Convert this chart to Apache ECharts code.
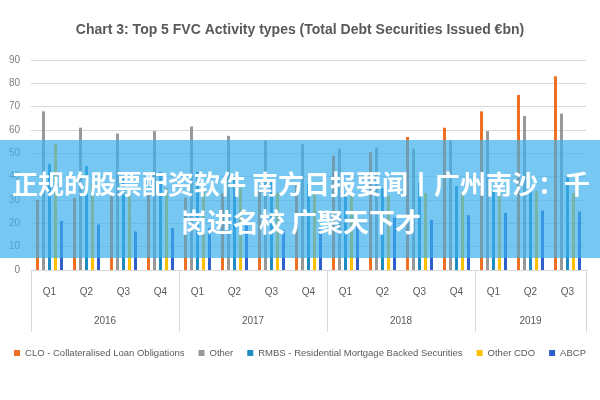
<!DOCTYPE html>
<html>
<head>
<meta charset="utf-8">
<script src="https://cdn.jsdelivr.net/npm/echarts@6/dist/echarts.min.js"></script>
<style>
    html, body {margin: 0; padding: 0; background: #fff;}
    #chart {width: 600px; height: 400px;}
</style>
</head>
<body>
<div id="chart"></div>
<script>
// quarter and year labels along the x axis
const quarters = ['Q1', 'Q2', 'Q3', 'Q4', 'Q1', 'Q2', 'Q3', 'Q4', 'Q1', 'Q2', 'Q3', 'Q4', 'Q1', 'Q2', 'Q3'];
const years = ['2016', '2017', '2018', '2019'];
// half-quarter slot where each year label sits, and where year separators go
const yearLabelSlots = [4, 12, 20, 27];
const yearTickSlots = [0, 8, 16, 24, 30];

const seriesNames = ['CLO - Collateralised Loan Obligations', 'Other', 'RMBS - Residential Mortgage Backed Securities', 'Other CDO', 'ABCP'];
const seriesColors = ['#F07023', '#999999', '#1E8BC3', '#FFC000', '#2F5FCB'];

// values (€bn)
const clo = [30, 31, 32, 32, 31, 33, 34, 37, 49, 50.5, 57, 61, 68, 75, 83];
const other = [68, 61, 58.5, 59.5, 61.5, 57.5, 55.5, 54, 52, 52.5, 52, 55.5, 59.5, 66, 67];
const rmbs = [45.5, 44.5, 40, 42, 42, 40, 38, 37, 33, 35, 37.5, 36, 34.5, 35.5, 40];
const otherCdo = [54, 37, 34, 35, 34, 35, 33, 33, 32, 32, 33, 33, 33.5, 34, 33];
const abcp = [21, 19.5, 16.5, 18, 18, 19, 17, 18, 21, 22.5, 21.5, 23.5, 24.5, 25.5, 25];

const yAxisTicks = {min: 0, max: 90, interval: 10};

const bannerLines = ['正规的股票配资软件 南方日报要闻丨广州南沙：千', '岗进名校 广聚天下才'];

const labelFont = '"Liberation Sans", Arial, sans-serif';
const gridColor = '#d9d9d9';
const textColor = '#595959';

// year axis: 31 points on half-quarter steps, labels only where a year is centred
const yearSlots = [];
for (let k = 0; k <= 30; k++) {
    const i = yearLabelSlots.indexOf(k);
    yearSlots.push(i >= 0 ? years[i] : '');
}

const allValues = [clo, other, rmbs, otherCdo, abcp];

const chart = echarts.init(document.getElementById('chart'), null, {renderer: 'canvas'});

chart.setOption({
    animation: false,
    title: {
        text: 'Chart 3: Top 5 FVC Activity types (Total Debt Securities Issued €bn)',
        left: 'center',
        top: 18,
        textStyle: {fontFamily: labelFont, fontSize: 14, fontWeight: 'bold', color: textColor}
    },
    grid: {left: 31, right: 14, top: 60, bottom: 130},
    legend: {
        data: seriesNames,
        bottom: 37,
        left: 'center',
        icon: 'rect',
        itemWidth: 6,
        itemHeight: 6,
        itemGap: 14,
        textStyle: {fontFamily: labelFont, fontSize: 9.5, color: textColor}
    },
    xAxis: [
        {
            type: 'category',
            position: 'bottom',
            data: quarters,
            axisLine: {lineStyle: {color: gridColor}},
            axisTick: {length: 32, lineStyle: {color: gridColor}},
            axisLabel: {margin: 17, fontFamily: labelFont, fontSize: 10, color: textColor}
        },
        {
            type: 'category',
            position: 'bottom',
            boundaryGap: false,
            data: yearSlots,
            axisLine: {show: false},
            axisTick: {
                length: 62,
                interval: (idx) => yearTickSlots.includes(idx),
                lineStyle: {color: gridColor}
            },
            axisLabel: {interval: 0, margin: 46, fontFamily: labelFont, fontSize: 10, color: textColor}
        }
    ],
    yAxis: {
        type: 'value',
        ...yAxisTicks,
        axisLine: {show: false},
        axisTick: {show: false},
        axisLabel: {margin: 11, fontFamily: labelFont, fontSize: 10, color: '#7f7f7f'},
        splitLine: {lineStyle: {color: gridColor}}
    },
    series: seriesNames.map((name, i) => ({
        name,
        type: 'bar',
        xAxisIndex: 0,
        data: allValues[i],
        barWidth: 3,
        barGap: '100%',
        itemStyle: {color: seriesColors[i]}
    })),
    graphic: [
        {
            type: 'rect',
            z: 100,
            shape: {x: 0, y: 140, width: 600, height: 118},
            style: {fill: 'rgba(60,175,235,0.7)'}
        },
        ...bannerLines.map((line, i) => ({
            type: 'text',
            z: 101,
            x: 301,
            y: 184 + i * 38,
            style: {
                text: line,
                fill: '#ffffff',
                fontFamily: '"Noto Sans CJK SC", sans-serif',
                fontWeight: 'bold',
                fontSize: 26,
                textAlign: 'center',
                textVerticalAlign: 'middle'
            }
        }))
    ]
});
</script>
</body>
</html>
